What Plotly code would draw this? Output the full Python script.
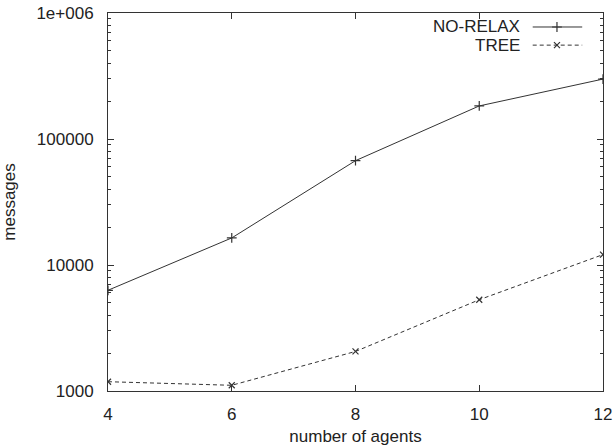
import plotly.graph_objects as go

agents = [4, 6, 8, 10, 12]
no_relax = [6300, 16400, 67300, 183000, 299000]
tree = [1185, 1110, 2060, 5300, 12100]
ytick_vals = [1000, 10000, 100000, 1000000]
ytick_text = ["1000", "10000", "100000", "1e+006"]
legend_names = ["NO-RELAX", "TREE"]

FONT = "Liberation Sans, Arial, sans-serif"
LC = "#333333"
FS = 17

fig = go.Figure()
fig.add_trace(go.Scatter(
    x=agents, y=no_relax, mode="lines+markers", name=legend_names[0],
    line=dict(color=LC, width=1),
    marker=dict(symbol="cross-thin", size=7, line=dict(color=LC, width=1.2)),
    showlegend=False))
fig.add_trace(go.Scatter(
    x=agents, y=tree, mode="lines+markers", name=legend_names[1],
    line=dict(color=LC, width=1, dash="4px,3px"),
    marker=dict(symbol="x-thin", size=6, line=dict(color=LC, width=1.2)),
    showlegend=False))

# manual gnuplot-style legend (text left, sample right) on an overlay axis
fig.add_trace(go.Scatter(
    x=[0.858, 0.907, 0.958], y=[0.963, 0.963, 0.963], xaxis="x2", yaxis="y2",
    mode="lines+markers", showlegend=False, hoverinfo="skip",
    line=dict(color=LC, width=1),
    marker=dict(symbol="cross-thin", size=7, line=dict(color=LC, width=1.2),
                opacity=[0, 1, 0])))
fig.add_trace(go.Scatter(
    x=[0.858, 0.907, 0.958], y=[0.915, 0.915, 0.915], xaxis="x2", yaxis="y2",
    mode="lines+markers", showlegend=False, hoverinfo="skip",
    line=dict(color=LC, width=1, dash="4px,3px"),
    marker=dict(symbol="x-thin", size=6, line=dict(color=LC, width=1.2),
                opacity=[0, 1, 0])))
for name, yy in zip(legend_names, [0.963, 0.915]):
    fig.add_annotation(x=0.836, y=yy, xref="x2", yref="y2", text=name,
                       showarrow=False, xanchor="right", yanchor="middle",
                       font=dict(family=FONT, size=FS, color="#222"))

fig.update_layout(
    width=615, height=448,
    margin=dict(l=108, r=12, t=13, b=57),
    paper_bgcolor="white", plot_bgcolor="white",
    font=dict(family=FONT, size=FS, color="#222"),
    xaxis=dict(
        range=[4, 12], tickvals=agents, ticktext=[str(a) for a in agents],
        ticks="inside", ticklen=6, tickcolor="#333", mirror="allticks",
        showline=True, linecolor="#333", linewidth=1, showgrid=False,
        zeroline=False, ticklabelstandoff=8, automargin=False,
        ticklabeloverflow="allow",
        title=dict(text="number of agents", standoff=6,
                   font=dict(family=FONT, size=FS)),
    ),
    yaxis=dict(
        type="log", range=[3, 6], tickvals=ytick_vals, ticktext=ytick_text,
        ticks="inside", ticklen=6, tickcolor="#333", mirror="allticks",
        showline=True, linecolor="#333", linewidth=1, showgrid=False,
        zeroline=False, ticklabelstandoff=10, automargin=False,
        ticklabeloverflow="allow",
        minor=dict(ticks="inside", ticklen=3, tickcolor="#333",
                   dtick="D1", showgrid=False),
        title=dict(text="messages", standoff=18,
                   font=dict(family=FONT, size=FS)),
    ),
    xaxis2=dict(range=[0, 1], overlaying="x", visible=False, fixedrange=True),
    yaxis2=dict(range=[0, 1], overlaying="y", visible=False, fixedrange=True),
)

fig.write_html(
    "out.html",
    config={"displayModeBar": False},
    post_script="document.body.style.margin='0';document.body.style.overflow='hidden';",
)
